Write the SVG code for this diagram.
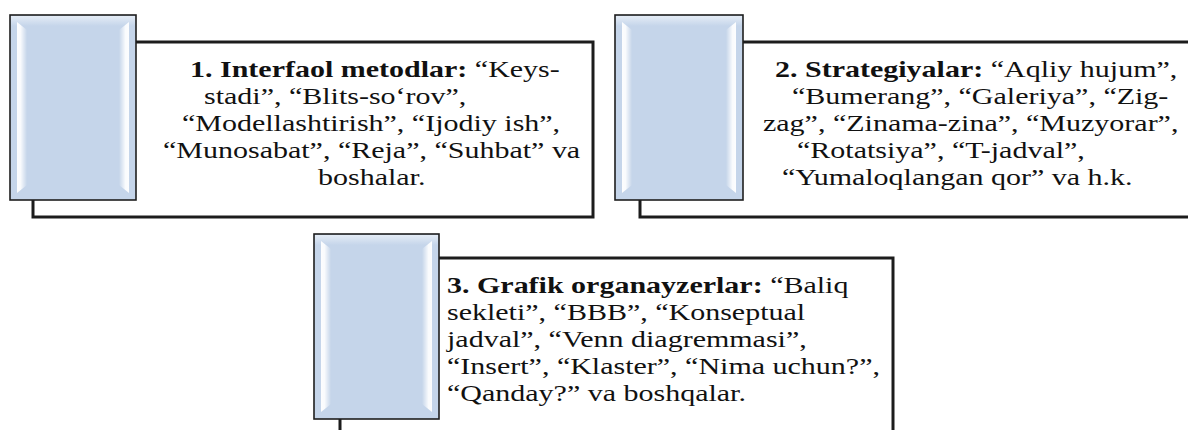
<svg xmlns="http://www.w3.org/2000/svg" width="1188" height="430" viewBox="0 0 1188 430">
<defs>
<linearGradient id="gl" x1="0" y1="0" x2="1" y2="0">
<stop offset="0" stop-color="#ffffff" stop-opacity="0.95"/>
<stop offset="0.35" stop-color="#ffffff" stop-opacity="0.9"/>
<stop offset="1" stop-color="#ffffff" stop-opacity="0"/>
</linearGradient>
<linearGradient id="gr" x1="0" y1="0" x2="1" y2="0">
<stop offset="0" stop-color="#ffffff" stop-opacity="0"/>
<stop offset="0.65" stop-color="#ffffff" stop-opacity="0.9"/>
<stop offset="1" stop-color="#ffffff" stop-opacity="0.95"/>
</linearGradient>
<linearGradient id="gt" x1="0" y1="0" x2="0" y2="1">
<stop offset="0" stop-color="#e4ecf6"/>
<stop offset="1" stop-color="#c5d5ea"/>
</linearGradient>
</defs>
<style>
.frame{fill:#ffffff;stroke:#1c1c1c;stroke-width:3}
.blue{fill:#c5d5ea;stroke:#1e1e1e;stroke-width:1.6}
.t{font-family:"Liberation Serif","Times New Roman",serif;font-size:24px;fill:#111111}
.b{font-weight:bold}
</style>
<rect width="1188" height="430" fill="#ffffff"/>

<g id="node1">
<rect class="frame" x="33" y="42" width="560" height="175"/>
<rect class="blue" x="10" y="15" width="126" height="185"/>
<rect x="11" y="16" width="124" height="10" fill="url(#gt)"/>
<polygon points="17,22 27,30 27,185 17,193" fill="url(#gl)"/>
<polygon points="129,22 119,30 119,185 129,193" fill="url(#gr)"/>
<text class="t" transform="translate(190,77) scale(1.25,1)"><tspan class="b">1. Interfaol metodlar: </tspan>“Keys-</text>
<text class="t" transform="translate(204,104) scale(1.25,1)">stadi”, “Blits-so‘rov”,</text>
<text class="t" transform="translate(182,131) scale(1.25,1)">“Modellashtirish”, “Ijodiy ish”,</text>
<text class="t" transform="translate(163,158) scale(1.25,1)">“Munosabat”, “Reja”, “Suhbat” va</text>
<text class="t" transform="translate(318,185) scale(1.25,1)">boshalar.</text>
</g>

<g id="node2">
<rect class="frame" x="640" y="42" width="560" height="175"/>
<rect class="blue" x="615" y="15" width="128" height="185"/>
<rect x="616" y="16" width="126" height="10" fill="url(#gt)"/>
<polygon points="622,22 632,30 632,185 622,193" fill="url(#gl)"/>
<polygon points="736,22 726,30 726,185 736,193" fill="url(#gr)"/>
<text class="t" transform="translate(775,77) scale(1.25,1)"><tspan class="b">2. Strategiyalar: </tspan>“Aqliy hujum”,</text>
<text class="t" transform="translate(792,104) scale(1.25,1)">“Bumerang”, “Galeriya”, “Zig-</text>
<text class="t" transform="translate(763,131) scale(1.25,1)">zag”, “Zinama-zina”, “Muzyorar”,</text>
<text class="t" transform="translate(797,158) scale(1.25,1)">“Rotatsiya”, “T-jadval”,</text>
<text class="t" transform="translate(782,185) scale(1.25,1)">“Yumaloqlangan qor” va h.k.</text>
</g>

<g id="node3">
<rect class="frame" x="340" y="258" width="553" height="190"/>
<rect class="blue" x="314" y="234" width="125" height="185"/>
<rect x="315" y="235" width="123" height="10" fill="url(#gt)"/>
<polygon points="321,241 331,249 331,404 321,412" fill="url(#gl)"/>
<polygon points="432,241 422,249 422,404 432,412" fill="url(#gr)"/>
<text class="t" transform="translate(447,293) scale(1.25,1)"><tspan class="b">3. Grafik organayzerlar: </tspan>“Baliq</text>
<text class="t" transform="translate(447,320) scale(1.25,1)">sekleti”, “BBB”, “Konseptual</text>
<text class="t" transform="translate(447,347) scale(1.25,1)">jadval”, “Venn diagremmasi”,</text>
<text class="t" transform="translate(447,374) scale(1.25,1)">“Insert”, “Klaster”, “Nima uchun?”,</text>
<text class="t" transform="translate(447,401) scale(1.25,1)">“Qanday?” va boshqalar.</text>
</g>
</svg>
